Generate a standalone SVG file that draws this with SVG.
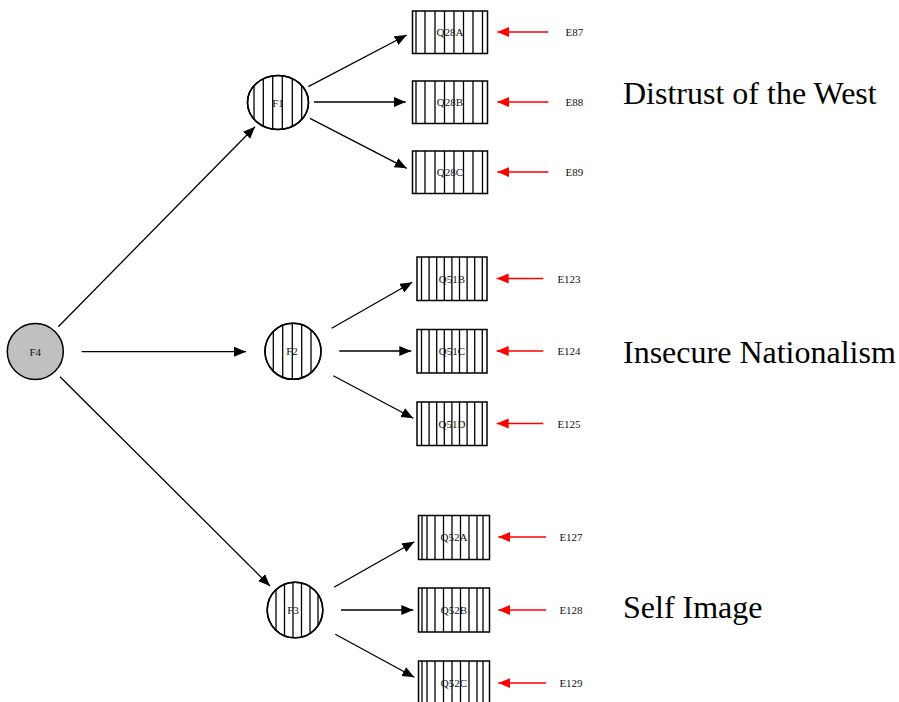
<svg xmlns="http://www.w3.org/2000/svg" width="899" height="702" viewBox="0 0 899 702">
<style>
.box{fill:#fff;stroke:#000;stroke-width:1.5}
.circ{fill:#fff;stroke:#000;stroke-width:1.5}
.hatch{stroke:#000;stroke-width:1.3}
.lbl{font-family:"Liberation Serif","Times New Roman",serif;font-size:11px;fill:#111;text-anchor:middle}
.big{font-family:"Liberation Serif","Times New Roman",serif;font-size:32px;fill:#000}
.edge{stroke:#000;stroke-width:1.3;fill:none;marker-end:url(#ah)}
.err{stroke:#f00;stroke-width:1.3;fill:none;marker-end:url(#ahr)}
</style>
<defs>
<marker id="ah" markerUnits="userSpaceOnUse" markerWidth="13" markerHeight="11" refX="12" refY="5" orient="auto"><path d="M0,0 L12,5 L0,10 z" fill="#000"/></marker>
<marker id="ahr" markerUnits="userSpaceOnUse" markerWidth="13" markerHeight="11" refX="12" refY="5" orient="auto"><path d="M0,0 L12,5 L0,10 z" fill="#f00"/></marker>
<clipPath id="cF1"><ellipse cx="278" cy="102.5" rx="30.5" ry="27"/></clipPath>
<clipPath id="cF2"><circle cx="293" cy="351.3" r="28"/></clipPath>
<clipPath id="cF3"><circle cx="295" cy="610" r="27.8"/></clipPath>
<g id="h28"><path class="hatch" d="M416,0v42.5M425,0v42.5M435,0v42.5M444.5,0v42.5M454,0v42.5M463.5,0v42.5M473,0v42.5M482.5,0v42.5"/></g>
<g id="h51"><path class="hatch" d="M421.5,0v43.5M429.1,0v43.5M436.7,0v43.5M444.3,0v43.5M451.9,0v43.5M459.5,0v43.5M467.1,0v43.5M474.7,0v43.5M482.3,0v43.5"/></g>
<g id="h52"><path class="hatch" d="M422,0v44M427,0v44M435,0v44M443.5,0v44M452,0v44M460.5,0v44M469,0v44M477,0v44M483,0v44"/></g>
</defs>
<rect width="899" height="702" fill="#fff"/>

<g id="connectors">
<line class="edge" x1="58.3" y1="326.7" x2="255" y2="126.7"/>
<line class="edge" x1="81.7" y1="351.7" x2="246" y2="351.7"/>
<line class="edge" x1="60" y1="376.7" x2="270" y2="586"/>
<line class="edge" x1="308.3" y1="86.7" x2="406.7" y2="35"/>
<line class="edge" x1="314" y1="102" x2="405.7" y2="102"/>
<line class="edge" x1="310" y1="118.3" x2="406.7" y2="168.3"/>
<line class="edge" x1="331.7" y1="328.3" x2="412.3" y2="282.3"/>
<line class="edge" x1="339.3" y1="351" x2="411.3" y2="351"/>
<line class="edge" x1="333.3" y1="375.7" x2="413.3" y2="418.3"/>
<line class="edge" x1="334" y1="587.3" x2="414.3" y2="541.7"/>
<line class="edge" x1="341" y1="610" x2="413.3" y2="610"/>
<line class="edge" x1="335.3" y1="634.3" x2="414.3" y2="677.3"/>
<line class="err" x1="548.3" y1="32" x2="497.3" y2="32"/>
<line class="err" x1="548.3" y1="102" x2="497.3" y2="102"/>
<line class="err" x1="548.3" y1="172" x2="497.3" y2="172"/>
<line class="err" x1="543.3" y1="278.5" x2="496.7" y2="278.5"/>
<line class="err" x1="543.3" y1="351" x2="496.7" y2="351"/>
<line class="err" x1="543.3" y1="423.5" x2="496.7" y2="423.5"/>
<line class="err" x1="546" y1="537" x2="498.3" y2="537"/>
<line class="err" x1="546" y1="610" x2="498.3" y2="610"/>
<line class="err" x1="546" y1="683" x2="498.3" y2="683"/>
</g>

<g id="F4"><circle cx="35.3" cy="351.5" r="28" fill="#c0c0c0" stroke="#000" stroke-width="1.5"/><text class="lbl" x="35.3" y="355.5">F4</text></g>

<g id="F1"><ellipse class="circ" cx="278" cy="102.5" rx="30.5" ry="27"/>
<path class="hatch" clip-path="url(#cF1)" d="M254,70v65M263.3,70v65M272.7,70v65M282.3,70v65M292.3,70v65M301.7,70v65"/>
<ellipse cx="278" cy="102.5" rx="30.5" ry="27" fill="none" stroke="#000" stroke-width="1.5"/>
<text class="lbl" x="278" y="106.5">F1</text></g>

<g id="F2"><circle class="circ" cx="293" cy="351.3" r="28"/>
<path class="hatch" clip-path="url(#cF2)" d="M273.3,320v65M282.7,320v65M292.3,320v65M301.7,320v65M311,320v65"/>
<circle cx="293" cy="351.3" r="28" fill="none" stroke="#000" stroke-width="1.5"/>
<text class="lbl" x="292" y="355.3">F2</text></g>

<g id="F3"><circle class="circ" cx="295" cy="610" r="27.8"/>
<path class="hatch" clip-path="url(#cF3)" d="M276,580v65M284.5,580v65M293,580v65M301.5,580v65M310,580v65M318,580v65"/>
<circle cx="295" cy="610" r="27.8" fill="none" stroke="#000" stroke-width="1.5"/>
<text class="lbl" x="293" y="614">F3</text></g>

<g id="Q28A"><rect class="box" x="412.5" y="11" width="75" height="42.5"/><use href="#h28" y="11"/><text class="lbl" x="450" y="35.5">Q28A</text></g>
<g id="Q28B"><rect class="box" x="412.5" y="81" width="75" height="42.5"/><use href="#h28" y="81"/><text class="lbl" x="450" y="105.5">Q28B</text></g>
<g id="Q28C"><rect class="box" x="412.5" y="151" width="75" height="42.5"/><use href="#h28" y="151"/><text class="lbl" x="450" y="175.5">Q28C</text></g>

<g id="Q51B"><rect class="box" x="417" y="257" width="70" height="43.5"/><use href="#h51" y="257"/><text class="lbl" x="452" y="282.5">Q51B</text></g>
<g id="Q51C"><rect class="box" x="417" y="329.5" width="70" height="43.5"/><use href="#h51" y="329.5"/><text class="lbl" x="452" y="355">Q51C</text></g>
<g id="Q51D"><rect class="box" x="417" y="402" width="70" height="43.5"/><use href="#h51" y="402"/><text class="lbl" x="452" y="427.5">Q51D</text></g>

<g id="Q52A"><rect class="box" x="418.5" y="515.5" width="71" height="44"/><use href="#h52" y="515.5"/><text class="lbl" x="454" y="541">Q52A</text></g>
<g id="Q52B"><rect class="box" x="418.5" y="588" width="71" height="44"/><use href="#h52" y="588"/><text class="lbl" x="454" y="614">Q52B</text></g>
<g id="Q52C"><rect class="box" x="418.5" y="661" width="71" height="44"/><use href="#h52" y="661"/><text class="lbl" x="454" y="687">Q52C</text></g>

<g id="E87"><text class="lbl" x="574.3" y="36">E87</text></g>
<g id="E88"><text class="lbl" x="574.3" y="106">E88</text></g>
<g id="E89"><text class="lbl" x="574.3" y="176">E89</text></g>
<g id="E123"><text class="lbl" x="569" y="282.5">E123</text></g>
<g id="E124"><text class="lbl" x="569" y="355">E124</text></g>
<g id="E125"><text class="lbl" x="569" y="427.5">E125</text></g>
<g id="E127"><text class="lbl" x="571" y="541">E127</text></g>
<g id="E128"><text class="lbl" x="571" y="614">E128</text></g>
<g id="E129"><text class="lbl" x="571" y="687">E129</text></g>

<text class="big" x="623" y="103.8">Distrust of the West</text>
<text class="big" x="623" y="362.5">Insecure Nationalism</text>
<text class="big" x="623" y="617.5">Self Image</text>
</svg>
